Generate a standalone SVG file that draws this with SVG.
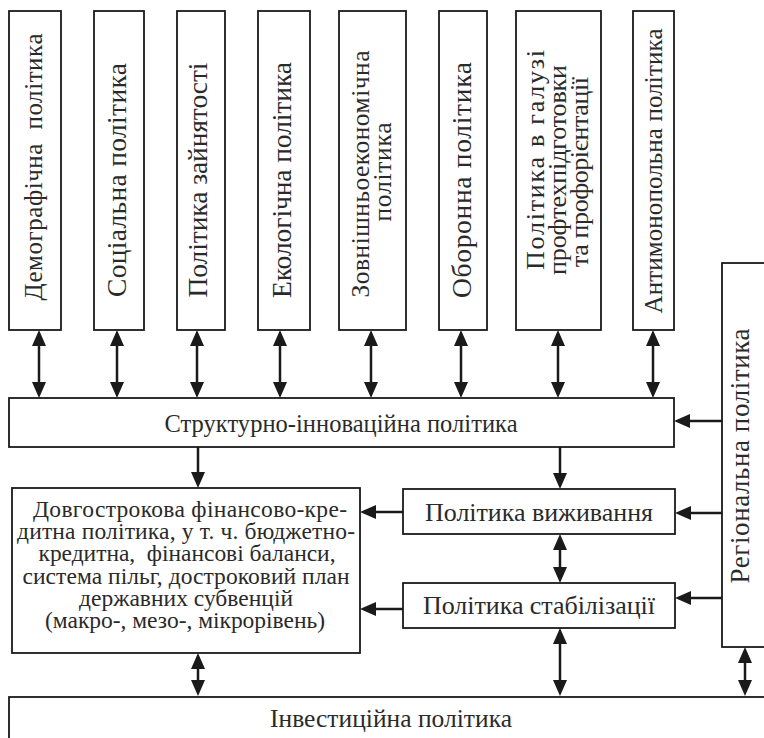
<svg xmlns="http://www.w3.org/2000/svg" width="764" height="738" viewBox="0 0 764 738">
<defs>
<marker id="ah" viewBox="0 0 16 14" markerWidth="16" markerHeight="14" refX="8" refY="7" orient="auto-start-reverse" markerUnits="userSpaceOnUse">
<path d="M0,0 L16,7 L0,14 z" fill="#1a1a1a"/>
</marker>
<style>
.box{fill:#fff;stroke:#1a1a1a;stroke-width:1.8}
.t{font-family:"Liberation Serif","Times New Roman",serif;font-size:23.5px;fill:#2a2a2a;text-anchor:middle;white-space:pre}
.c line{stroke:#1a1a1a;stroke-width:2.5}
.da{marker-start:url(#ah);marker-end:url(#ah)}
.sa{marker-end:url(#ah)}
</style>
</defs>
<rect width="764" height="738" fill="#fff"/>
<g id="demo"><rect class="box" x="9" y="11" width="52" height="319"/><text class="t" style="font-size:25px" textLength="267" transform="translate(42,167) rotate(-90)">Демографічна  політика</text></g>
<g id="social"><rect class="box" x="94" y="11" width="50" height="319"/><text class="t" style="font-size:27.5px" textLength="234" transform="translate(126,180) rotate(-90)">Соціальна політика</text></g>
<g id="employ"><rect class="box" x="177" y="11" width="48" height="319"/><text class="t" style="font-size:27.5px" textLength="235" transform="translate(207,180) rotate(-90)">Політика зайнятості</text></g>
<g id="eco"><rect class="box" x="258" y="11" width="52" height="319"/><text class="t" style="font-size:27.5px" textLength="236" transform="translate(291,180) rotate(-90)">Екологічна політика</text></g>
<g id="foreign"><rect class="box" x="339" y="11" width="67" height="319"/><text class="t" style="font-size:25.5px" textLength="247" transform="translate(369,174) rotate(-90)">Зовнішньоекономічна</text><text class="t" style="font-size:25.5px" textLength="99" transform="translate(391,172) rotate(-90)">політика</text></g>
<g id="defense"><rect class="box" x="439" y="11" width="48" height="319"/><text class="t" style="font-size:27.5px" textLength="236" transform="translate(471,180) rotate(-90)">Оборонна політика</text></g>
<g id="prof"><rect class="box" x="516" y="11" width="85" height="319"/><text class="t" style="font-size:26px" textLength="220" transform="translate(544,160) rotate(-90)">Політика в галузі</text><text class="t" style="font-size:26px" textLength="210" transform="translate(566,170) rotate(-90)">профтехпідготовки</text><text class="t" style="font-size:26px" textLength="190" transform="translate(588,172) rotate(-90)">та профорієнтації</text></g>
<g id="antimono"><rect class="box" x="633" y="11" width="41" height="319"/><text class="t" style="font-size:25px" textLength="285" transform="translate(662,171) rotate(-90)">Антимонопольна політика</text></g>
<g id="struct"><rect class="box" x="9" y="398" width="665" height="49"/><text class="t" style="font-size:24.5px" textLength="353" x="341" y="432">Структурно-інноваційна політика</text></g>
<g id="finance"><rect class="box" x="12" y="488" width="348" height="165"/>
<text class="t" textLength="314" x="190" y="517">Довгострокова фінансово-кре-</text>
<text class="t" textLength="338" x="186" y="539">дитна політика, у т. ч. бюджетно-</text>
<text class="t" textLength="297" x="187" y="561">кредитна,  фінансові баланси,</text>
<text class="t" textLength="327" x="186" y="584">система пільг, достроковий план</text>
<text class="t" textLength="214" x="186" y="606">державних субвенцій</text>
<text class="t" textLength="280" x="185" y="628">(макро-, мезо-, мікрорівень)</text></g>
<g id="survival"><rect class="box" x="403" y="489" width="272" height="45"/><text class="t" style="font-size:26px" textLength="228" x="539" y="521">Політика виживання</text></g>
<g id="stab"><rect class="box" x="403" y="583" width="272" height="45"/><text class="t" style="font-size:26px" textLength="232" x="539" y="614">Політика стабілізації</text></g>
<g id="regional"><rect class="box" x="722" y="263" width="60" height="384"/><text class="t" style="font-size:27px" textLength="255" transform="translate(749,456) rotate(-90)">Регіональна політика</text></g>
<g id="invest"><rect class="box" x="9" y="697" width="770" height="60"/><text class="t" style="font-size:25.5px" textLength="242" x="391" y="727">Інвестиційна політика</text></g>
<g id="connectors" class="c">
<line class="da" x1="39" y1="338" x2="39" y2="390"/>
<line class="da" x1="117" y1="338" x2="117" y2="390"/>
<line class="da" x1="197" y1="338" x2="197" y2="390"/>
<line class="da" x1="280" y1="338" x2="280" y2="390"/>
<line class="da" x1="371" y1="338" x2="371" y2="390"/>
<line class="da" x1="461" y1="338" x2="461" y2="390"/>
<line class="da" x1="558" y1="338" x2="558" y2="390"/>
<line class="da" x1="653" y1="338" x2="653" y2="390"/>
<line class="sa" x1="198" y1="447" x2="198" y2="480"/>
<line class="sa" x1="560" y1="447" x2="560" y2="481"/>
<line class="da" x1="560" y1="542" x2="560" y2="575"/>
<line class="sa" x1="403" y1="512" x2="368" y2="512"/>
<line class="sa" x1="403" y1="609" x2="368" y2="609"/>
<line class="sa" x1="722" y1="421" x2="682" y2="421"/>
<line class="sa" x1="722" y1="513" x2="683" y2="513"/>
<line class="sa" x1="722" y1="598" x2="683" y2="598"/>
<line class="da" x1="198" y1="661" x2="198" y2="688"/>
<line class="da" x1="560" y1="636" x2="560" y2="688"/>
<line class="da" x1="745" y1="655" x2="745" y2="688"/>
</g>
</svg>
